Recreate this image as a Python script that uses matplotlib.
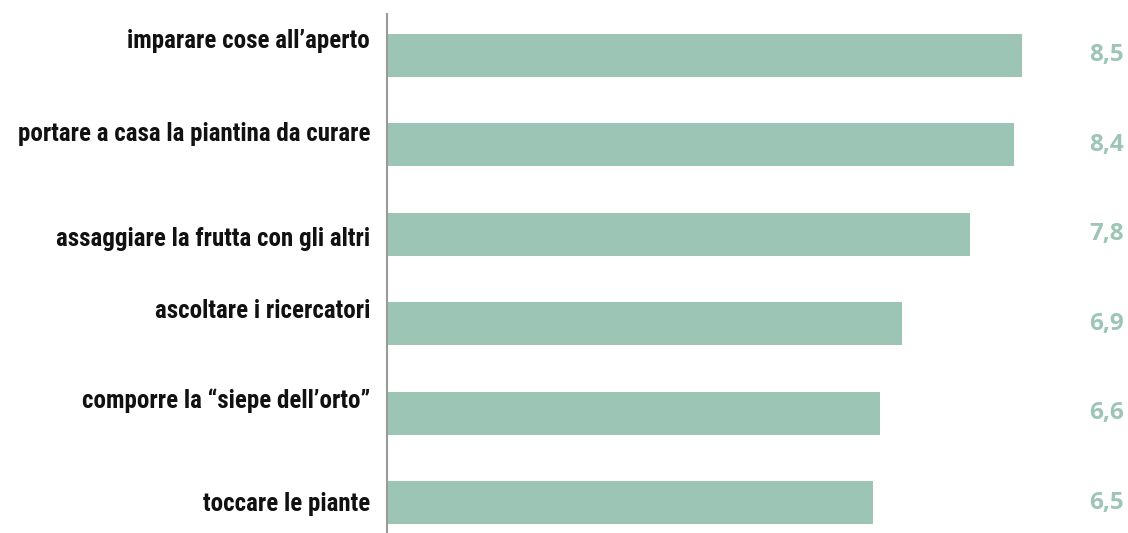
import matplotlib
matplotlib.use("Agg")
import matplotlib.pyplot as plt
import matplotlib.transforms as mtransforms

# Data
categories = [
    "imparare cose all\u2019aperto",
    "portare a casa la piantina da curare",
    "assaggiare la frutta con gli altri",
    "ascoltare i ricercatori",
    "comporre la \u201csiepe dell\u2019orto\u201d",
    "toccare le piante",
]
values = [8.5, 8.4, 7.8, 6.9, 6.6, 6.5]

# small vertical nudges of the category labels (in bar units) as in the original
label_offsets = [-0.16, -0.12, 0.05, -0.14, -0.14, 0.02]

bar_color = "#9dc5b5"
value_color = "#9dc5b5"

W, H = 1128, 533
fig = plt.figure(figsize=(W / 100, H / 100), dpi=100)
ax = fig.add_axes([387 / W, 0, 1 - 387 / W, 519 / H])

y = list(range(len(categories)))
ax.barh(y, values, height=0.48, color=bar_color)

ax.set_xlim(0, 741 / 74.7)
ax.set_ylim(5.341, -0.464)

for s in ["top", "right", "bottom"]:
    ax.spines[s].set_visible(False)
ax.spines["left"].set_color("#9a9a9a")
ax.spines["left"].set_linewidth(1.5)
ax.set_xticks([])
ax.set_yticks([])

cond_fonts = ["Roboto Condensed", "Open Sans Condensed", "Liberation Sans Narrow",
              "DejaVu Sans"]

cat_trans = mtransforms.blended_transform_factory(fig.transFigure, ax.transData)
for yi, cat, off in zip(y, categories, label_offsets):
    ax.text(370 / W, yi + off, cat, transform=cat_trans, ha="right", va="center",
            fontsize=18, fontweight="bold", fontstretch="condensed",
            color="#111111", family=cond_fonts)

for yi, v in zip(y, values):
    ax.text(1124 / W, yi, f"{v:.1f}".replace(".", ","), transform=cat_trans,
            ha="right", va="center", fontsize=17.5, fontweight="bold",
            color=value_color, family=["Open Sans", "DejaVu Sans"])

fig.savefig("out.png", dpi=100)
